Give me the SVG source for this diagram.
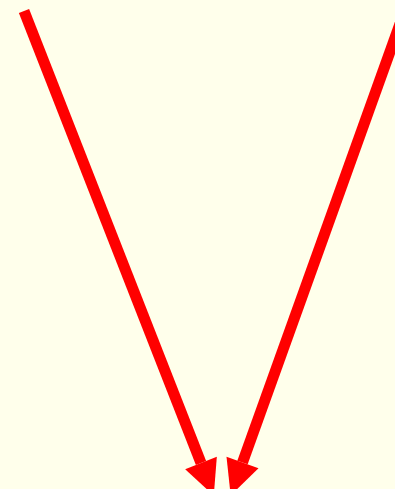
<svg xmlns="http://www.w3.org/2000/svg" width="395" height="489" viewBox="0 0 395 489">
  <style>
    .conn { fill: none; stroke: #ff0000; stroke-width: 11; stroke-linecap: butt; marker-end: url(#head); }
  </style>
  <defs>
    <marker id="head" markerUnits="userSpaceOnUse" orient="auto" refX="0" refY="0" markerWidth="40" markerHeight="40" viewBox="0 -20 40 40" overflow="visible">
      <path d="M0,-17 L35,0 L0,17 Z" fill="#ff0000"/>
    </marker>
  </defs>
  <rect id="background" x="0" y="0" width="395" height="489" fill="#ffffeb"/>
  <g id="connectors">
    <path class="conn" d="M24,11 L201,463"/>
    <path class="conn" d="M405,10 L242.5,462.5"/>
  </g>
</svg>
